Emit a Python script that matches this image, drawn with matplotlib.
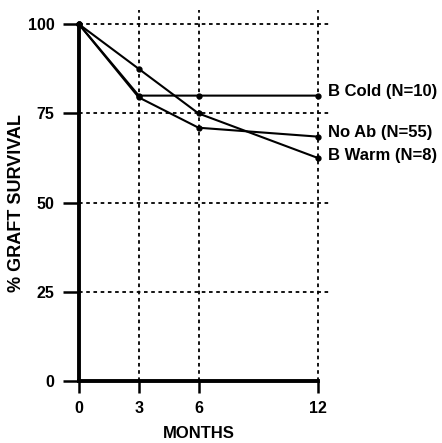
import matplotlib
matplotlib.use("Agg")
import matplotlib.pyplot as plt

plt.rcParams['font.family'] = ['Liberation Sans', 'DejaVu Sans']
plt.rcParams['font.weight'] = 'bold'

# data
months = [0, 3, 6, 12]
b_cold = [100, 80, 80, 80]
no_ab = [100, 79.5, 71, 68.5]
b_warm = [100, 87.5, 75, 62.5]
series = [("B Cold (N=10)", b_cold), ("No Ab (N=55)", no_ab), ("B Warm (N=8)", b_warm)]
label_dy = [3, 3, 2]  # small nudge of end labels (points)

yticks = [0, 25, 50, 75, 100]
xticks = [0, 3, 6, 12]

fig = plt.figure(figsize=(4.42, 4.43), dpi=100)
ax = fig.add_axes([79 / 442, 62 / 443, 251 / 442, 371 / 443])
ax.set_xlim(0, 12.6)
ax.set_ylim(0, 104)

# dotted grid, not on the zero lines
grid_kw = dict(color='black', lw=1.3, linestyle=(0, (2, 2)), zorder=1)
for y in yticks[1:]:
    ax.axhline(y, **grid_kw)
for x in xticks[1:]:
    ax.axvline(x, **grid_kw)

for (name, vals), dy in zip(series, label_dy):
    ax.plot(months, vals, color='black', lw=1.5, marker='o', ms=3.5,
            clip_on=False, zorder=3)
    ax.annotate(name, (months[-1], vals[-1]), xytext=(7, dy),
                textcoords='offset points', va='center', ha='left',
                fontsize=12, fontweight='bold', annotation_clip=False)

for s in ['top', 'right']:
    ax.spines[s].set_visible(False)
ax.spines['left'].set_bounds(0, 100)
ax.spines['bottom'].set_bounds(0, 12)
for s in ['left', 'bottom']:
    ax.spines[s].set_linewidth(2.8)
    ax.spines[s].set_zorder(4)

ax.set_xticks(xticks)
ax.set_yticks(yticks)
ax.tick_params(axis='y', direction='out', length=11.5, width=1.8, pad=6, labelsize=11.5)
ax.tick_params(axis='x', direction='out', length=8.5, width=1.8, pad=6, labelsize=11.5)

ax.set_xlabel("MONTHS", fontsize=12, fontweight='bold')
ax.xaxis.set_label_coords(6, -0.12, transform=ax.get_xaxis_transform())
ax.set_ylabel("% GRAFT SURVIVAL", fontsize=13, fontweight='bold')
ax.yaxis.set_label_coords(-0.215, 50, transform=ax.get_yaxis_transform())

fig.savefig("out.png", dpi=100)
